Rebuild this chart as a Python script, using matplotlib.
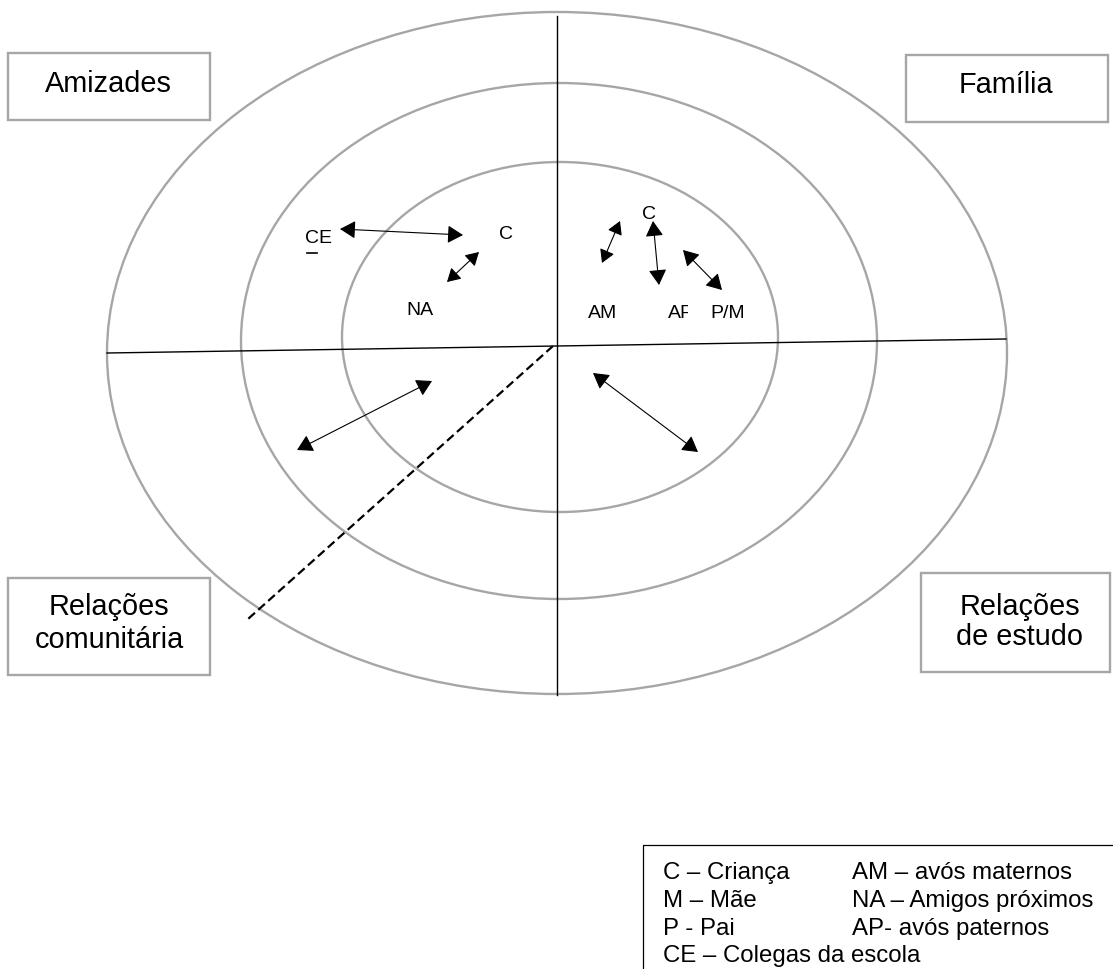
import matplotlib
matplotlib.use("Agg")
import matplotlib.pyplot as plt
from matplotlib.patches import Ellipse, Rectangle, FancyArrowPatch

plt.rcParams["font.family"] = ["Liberation Sans", "DejaVu Sans"]

W, H = 1113, 969

# ---------------------------------------------------------------------------
# Diagram content (pixel coordinates of the reference, y downwards)
# ---------------------------------------------------------------------------

# concentric rings: (cx, cy, half-width, half-height)
rings = [
    (557, 353, 450, 341),
    (559, 341, 318, 258),
    (560, 337, 218, 175),
]

# quadrant dividers
h_axis = [(107, 353), (1006, 339)]
v_axis = [(557, 16), (557, 695)]
dashed = [(553, 346), (248, 619)]

# quadrant boxes: (x0, y0, x1, y1, lines, baselines, centre x)
boxes = [
    (8, 53, 210, 120, ["Amizades"], [92], 108),
    (906, 55, 1108, 122, ["Família"], [93], 1006),
    (8, 578, 210, 675, ["Relações", "comunitária"], [615, 648], 109),
    (921, 573, 1110, 672, ["Relações", "de estudo"], [615, 645], 1020),
]

# double-headed arrows: (x0, y0, x1, y1, head scale)
arrows = [
    (340, 229, 463, 235, 1.0),   # CE <-> C
    (447, 282, 479, 252, 0.85),  # NA <-> C
    (602, 263, 620, 221, 0.85),  # AM <-> C
    (653, 221, 659, 285, 1.0),   # C <-> AP
    (683, 250, 722, 290, 1.0),   # C <-> P/M
    (297, 450, 432, 381, 1.0),   # comunitária
    (593, 373, 698, 452, 1.0),   # estudo
]

# member labels: (text, x, baseline, ha)
labels = [
    ("CE", 319, 243, "center"),
    ("C", 506, 239, "center"),
    ("NA", 420, 315, "center"),
    ("C", 649, 219, "center"),
    ("AM", 603, 318, "center"),
    ("AP", 668, 318, "left"),
    ("P/M", 728, 318, "center"),
]
ap_clip_x = 688

# legend
legend_box = (643, 845)
legend_col1 = ["C – Criança", "M – Mãe", "P - Pai", "CE – Colegas da escola"]
legend_col2 = ["AM – avós maternos", "NA – Amigos próximos", "AP- avós paternos", ""]
legend_x = [663, 852]
legend_y = [879, 907, 935, 962]

GREY = "#A6A6A6"

fig = plt.figure(figsize=(W / 100, H / 100), dpi=100)
ax = fig.add_axes([0, 0, 1, 1])
ax.set_xlim(0, W)
ax.set_ylim(H, 0)
ax.axis("off")

for cx, cy, a, b in rings:
    ax.add_patch(Ellipse((cx, cy), 2 * a, 2 * b, fill=False,
                         edgecolor=GREY, lw=1.7, zorder=1))

ax.plot(*zip(*h_axis), color="black", lw=1.0, zorder=2)
ax.plot(*zip(*v_axis), color="black", lw=1.0, zorder=2)
ax.plot(*zip(*dashed), color="black", lw=1.6, linestyle=(0, (4, 2)), zorder=2)

for x0, y0, x1, y1, lines, bases, tx in boxes:
    ax.add_patch(Rectangle((x0, y0), x1 - x0, y1 - y0, facecolor="white",
                           edgecolor=GREY, lw=1.7, zorder=3))
    for line, by in zip(lines, bases):
        ax.text(tx, by, line, ha="center", va="baseline", fontsize=20.8, zorder=4)

for x0, y0, x1, y1, s in arrows:
    ax.add_patch(FancyArrowPatch(
        (x0, y0), (x1, y1),
        arrowstyle=f"<|-|>,head_length={0.95 * s},head_width={0.55 * s}",
        mutation_scale=10, color="black", lw=0.8,
        shrinkA=0, shrinkB=0, zorder=5))

for txt, x, y, ha in labels:
    ax.text(x, y, txt, ha=ha, va="baseline", fontsize=14, zorder=5)

# "AP" is cut on the right in the original: mask the bowl of the P
ax.add_patch(Rectangle((ap_clip_x, 300), 16, 22, facecolor="white",
                       edgecolor="none", zorder=6))

# small dash under "CE"
ax.plot([307, 317], [253, 253], color="black", lw=1.2, zorder=5)

# legend box running off the page
ax.add_patch(Rectangle(legend_box, 600, 300, fill=False,
                       edgecolor="black", lw=0.9, zorder=3))
for col, x in zip([legend_col1, legend_col2], legend_x):
    for txt, y in zip(col, legend_y):
        if txt:
            ax.text(x, y, txt, ha="left", va="baseline", fontsize=17.3, zorder=4)

fig.savefig("out.png", dpi=100, facecolor="white")
